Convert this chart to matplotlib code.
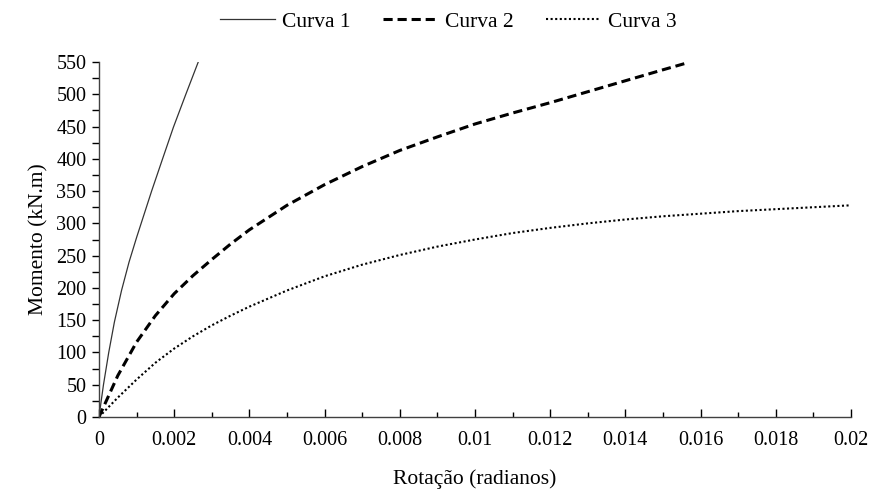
import matplotlib
matplotlib.use("Agg")
import matplotlib.pyplot as plt
from matplotlib.ticker import MultipleLocator
import numpy as np

plt.rcParams['font.family'] = ['Liberation Serif', 'DejaVu Serif']

# Curve data
x1 = [0, 0.00012, 0.00026, 0.00041, 0.0006, 0.0008, 0.001, 0.0014, 0.00168, 0.00198, 0.00231, 0.00264]
y1 = [0, 50, 100, 147, 196, 240, 278, 350, 398, 449, 500, 550]

x2 = [0, 0.0005, 0.001, 0.0015, 0.002, 0.0025, 0.003, 0.0035, 0.004,
      0.005, 0.006, 0.007, 0.008, 0.009, 0.010, 0.011, 0.012, 0.013, 0.014, 0.015, 0.0156]
y2 = [0, 64, 116, 157, 191, 219, 244, 268, 290,
      328, 360, 388, 413, 434, 454, 471, 487, 504, 521, 538, 548]

x3 = [0, 0.0005, 0.001, 0.0015, 0.002, 0.0025, 0.003, 0.0035, 0.004, 0.005, 0.006, 0.007,
      0.008, 0.009, 0.010, 0.011, 0.012, 0.013, 0.014, 0.015, 0.016, 0.017, 0.018, 0.019, 0.020]
y3 = [0, 30, 58, 84, 106, 125, 142, 157, 171, 196, 218, 236,
      251, 264, 275, 285, 293, 300, 306, 311, 315, 319, 322, 325, 328]

labels = ['Curva 1', 'Curva 2', 'Curva 3']
xtick_vals = [0, 0.002, 0.004, 0.006, 0.008, 0.01, 0.012, 0.014, 0.016, 0.018, 0.02]
xtick_labels = ['0', '0.002', '0.004', '0.006', '0.008', '0.01', '0.012', '0.014', '0.016', '0.018', '0.02']

fig = plt.figure(figsize=(8.75, 4.95), dpi=100)
ax = fig.add_axes([0.1131, 0.1576, 0.8595, 0.7171])

ax.plot(x1, y1, color='#333333', lw=0.9, label=labels[0])
ax.plot(x2, y2, color='black', lw=2.2, ls=(0, (3, 1.6)), label=labels[1])
ax.plot(x3, y3, color='black', lw=1.5, ls=(0, (1, 1.2)), label=labels[2])

ax.set_xlim(0, 0.02)
ax.set_ylim(0, 550)
ax.set_xticks(xtick_vals)
ax.set_xticklabels(xtick_labels)
ax.xaxis.set_minor_locator(MultipleLocator(0.001))
ax.yaxis.set_major_locator(MultipleLocator(50))
ax.yaxis.set_minor_locator(MultipleLocator(25))

for s in ['top', 'right']:
    ax.spines[s].set_visible(False)
for s in ['left', 'bottom']:
    ax.spines[s].set_color('#404040')
    ax.spines[s].set_linewidth(1.0)

ax.tick_params(axis='x', which='major', direction='in', length=6, width=1, labelsize=14.5, pad=10)
ax.tick_params(axis='x', which='minor', direction='in', length=3.5, width=1)
ax.tick_params(axis='y', which='major', direction='out', length=5, width=1, labelsize=14.5, pad=4)
ax.tick_params(axis='y', which='minor', direction='out', length=5, width=1)

ax.set_xlabel('Rotação (radianos)', fontsize=15.5, labelpad=14)
ax.set_ylabel('Momento (kN.m)', fontsize=15.5, labelpad=6)

fig.legend(loc='upper center', bbox_to_anchor=(0.512, 1.015), ncol=3, frameon=False,
           fontsize=15.5, handlelength=2.55, columnspacing=1.5, handletextpad=0.33)

fig.savefig('out.png', dpi=100)
